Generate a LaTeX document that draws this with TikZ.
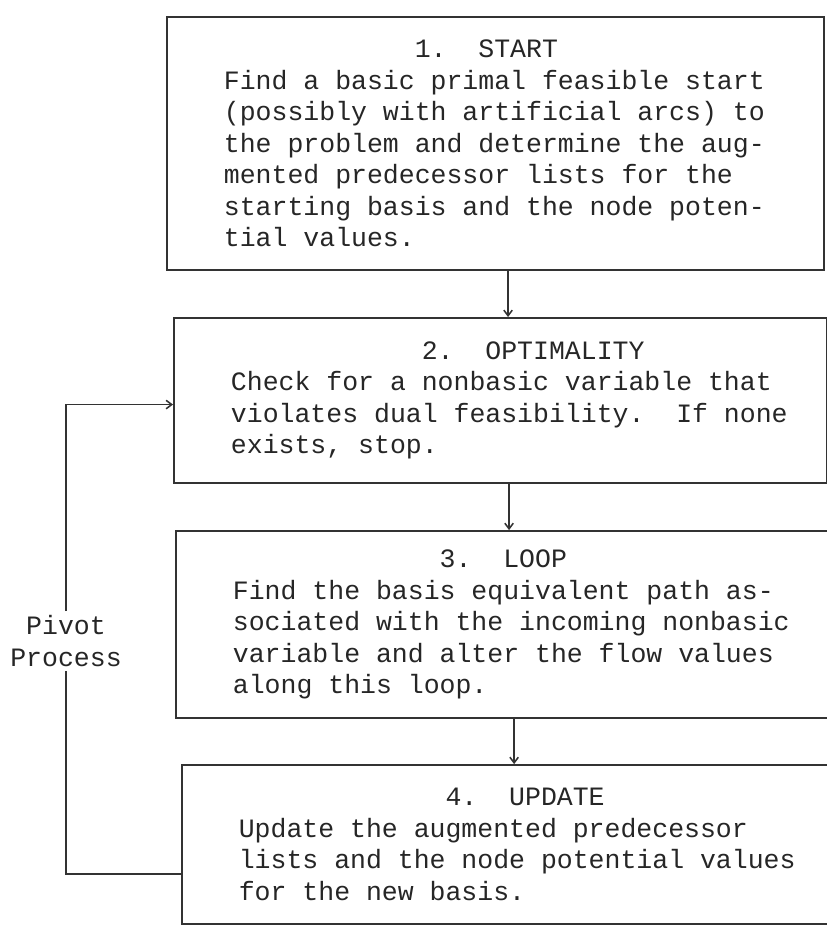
\documentclass[tikz,border=0pt]{standalone}
\usepackage{fontspec}
\setmonofont{Liberation Mono}
\usetikzlibrary{arrows.meta, positioning}
\frenchspacing

\begin{document}
\begin{tikzpicture}[x=0.025cm, y=0.025cm, >={Straight Barb[length=4pt,width=6pt]},
    font=\ttfamily\fontsize{18.85}{22.4}\selectfont,
    every node/.style={text=black!85},
    stepbox/.style={draw=black!80, line width=1.4pt, inner xsep=0pt, inner ysep=2pt, align=left,
        execute at begin node={\leftskip=40.5pt\relax\spaceskip=\fontdimen2\font\relax}},
    link/.style={draw=black!80, line width=1.1pt}]
    \useasboundingbox (0,0) rectangle (827,-930);

    \node[stepbox, text width=467.3pt, minimum height=180pt, anchor=north west] (box1) at (166,-16)
        {\hspace*{7.2em}1.\ \ START\\
         Find a basic primal feasible start\\
         (possibly with artificial arcs) to\\
         the problem and determine the aug-\\
         mented predecessor lists for the\\
         starting basis and the node poten-\\
         tial values.};
    \node[stepbox, text width=464.5pt, minimum height=117.4pt, below=32.7pt of box1.south west, anchor=north west, xshift=5pt] (box2)
        {\hspace*{7.2em}2.\ \ OPTIMALITY\\
         Check for a nonbasic variable that\\
         violates dual feasibility.\ \ If none\\
         exists, stop.};
    \node[stepbox, text width=464.5pt, minimum height=133pt, below=32.7pt of box2.south west, anchor=north west, xshift=1.4pt] (box3)
        {\hspace*{7.8em}3.\ \ LOOP\\
         Find the basis equivalent path as-\\
         sociated with the incoming nonbasic\\
         variable and alter the flow values\\
         along this loop.};
    \node[stepbox, text width=464.5pt, minimum height=113.1pt, below=32pt of box3.south west, anchor=north west, xshift=4.2pt] (box4)
        {\hspace*{7.8em}4.\ \ UPDATE\\
         Update the augmented predecessor\\
         lists and the node potential values\\
         for the new basis.};

    \draw[link, ->] ([xshift=8.9pt]box1.south) -- ([xshift=8.9pt]box1.south |- box2.north);
    \draw[link, ->] ([xshift=6pt]box2.south) -- ([xshift=6pt]box2.south |- box3.north);
    \draw[link, ->] ([xshift=8.2pt]box3.south) -- ([xshift=8.2pt]box3.south |- box4.north);

    % pivot loop back to step 2
    \node[align=center, inner xsep=2pt, inner ysep=3pt] (pivot) at (66,-641) {Pivot\\Process};
    \draw[link] ([yshift=-21pt]box4.west) -| (pivot.south);
    \draw[link, ->] (pivot.north) |- ([yshift=-2.8pt]box2.west);
\end{tikzpicture}
\end{document}
